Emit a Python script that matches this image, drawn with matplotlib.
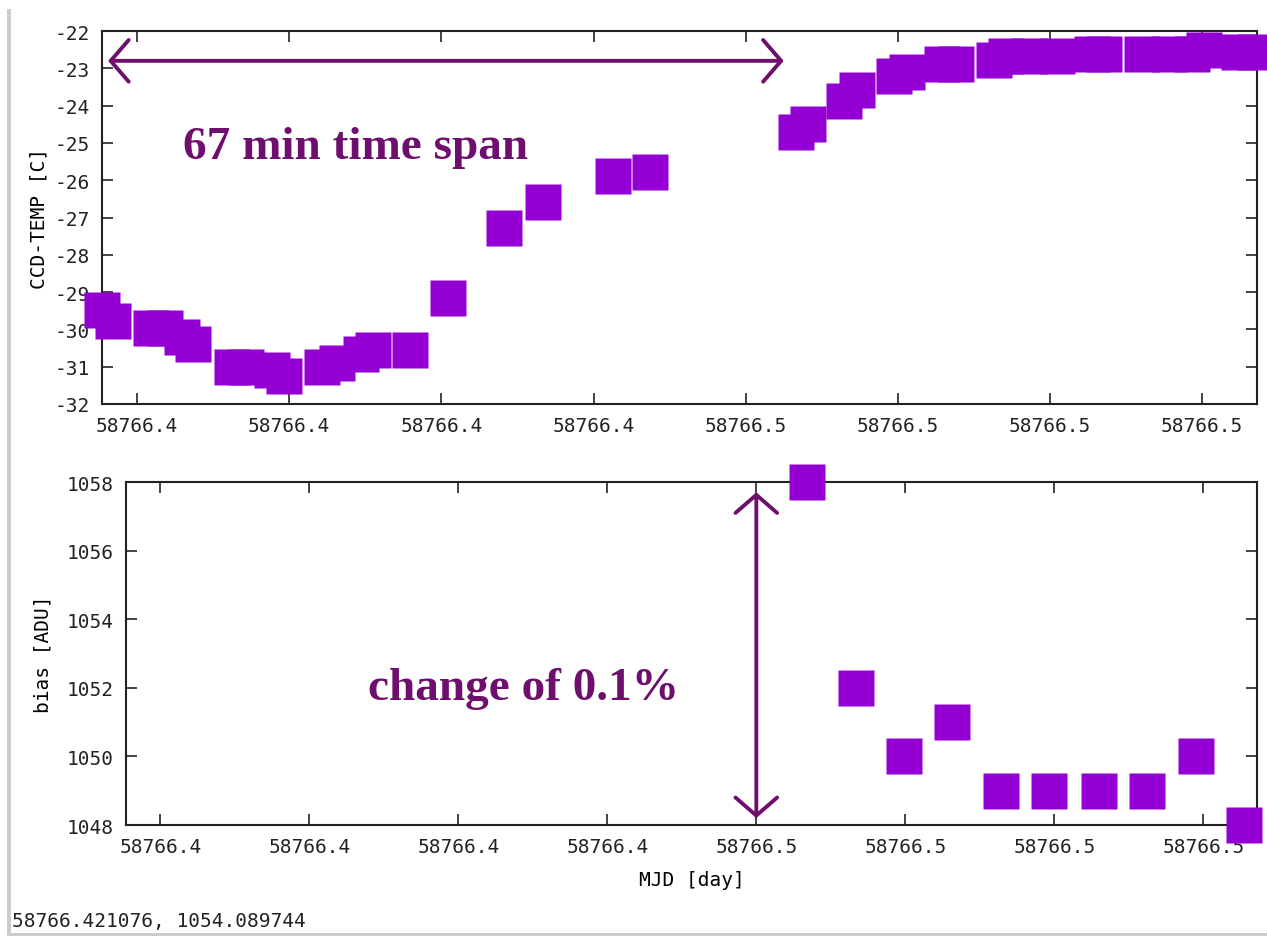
import matplotlib
matplotlib.use('Agg')
import matplotlib.pyplot as plt
from matplotlib.patches import Rectangle

# CCD temperature (top panel)
temp_mjd = [58766.41770, 58766.41843, 58766.42092, 58766.42184, 58766.42295,
            58766.42367, 58766.42623, 58766.42715, 58766.42885, 58766.42964,
            58766.43213, 58766.43311, 58766.43469, 58766.43548, 58766.43797,
            58766.44046, 58766.44413, 58766.44669, 58766.45128, 58766.45370,
            58766.46328, 58766.46407, 58766.46649, 58766.46734, 58766.46977,
            58766.47062, 58766.47292, 58766.47384, 58766.47633, 58766.47711,
            58766.47862, 58766.48046, 58766.48275, 58766.48354, 58766.48603,
            58766.48780, 58766.48931, 58766.49010, 58766.49239, 58766.49344]
ccd_temp = [-29.48, -29.77, -29.96, -29.96, -30.2, -30.4, -31.0, -31.0, -31.1, -31.25,
            -31.0, -30.9, -30.65, -30.55, -30.55, -29.15, -27.28, -26.58, -25.89, -25.78,
            -24.7, -24.5, -23.88, -23.58, -23.2, -23.1, -22.88, -22.88, -22.78, -22.67,
            -22.67, -22.67, -22.62, -22.62, -22.62, -22.62, -22.62, -22.5, -22.57, -22.55]

# bias level (bottom panel)
bias_mjd = [58766.46337, 58766.46667, 58766.46990, 58766.47313, 58766.47643,
            58766.47966, 58766.48302, 58766.48625, 58766.48948, 58766.49271]
bias = [1058, 1052, 1050, 1051, 1049, 1049, 1049, 1049, 1050, 1048]

xticks = [58766.42, 58766.43, 58766.44, 58766.45, 58766.46, 58766.47, 58766.48, 58766.49]
xtick_labels = ['58766.4'] * 4 + ['58766.5'] * 4
temp_ticks = list(range(-32, -21))
bias_ticks = list(range(1048, 1059, 2))
XMIN, XMAX = 58766.4177, 58766.4936

PT_COLOR = '#9400d3'
ANN_COLOR = '#6e0f6e'
MONO = 'DejaVu Sans Mono'

fig = plt.figure(figsize=(12.67, 9.37), dpi=100)
ax1 = fig.add_axes([102 / 1267, 1 - 405 / 937, 1155 / 1267, 373 / 937])
ax2 = fig.add_axes([126 / 1267, 1 - 826 / 937, 1131 / 1267, 343 / 937])


def style(ax, yticks):
    ax.set_xlim(XMIN, XMAX)
    ax.set_xticks(xticks)
    ax.set_xticklabels(xtick_labels, fontfamily=MONO, fontsize=14)
    ax.set_yticks(yticks)
    ax.set_yticklabels([str(v) for v in yticks], fontfamily=MONO, fontsize=14)
    ax.tick_params(direction='in', length=8, width=1.2, top=True, right=True,
                   pad=9, colors='#222222')
    for sp in ax.spines.values():
        sp.set_linewidth(1.5)
        sp.set_color('#222222')


ax1.plot(temp_mjd, ccd_temp, 's', ms=26, color=PT_COLOR, mec='none', clip_on=False, zorder=3)
ax1.set_ylim(-32, -22)
style(ax1, temp_ticks)
ax1.set_ylabel('CCD-TEMP [C]', fontfamily=MONO, fontsize=14, labelpad=4)

ax2.plot(bias_mjd, bias, 's', ms=26, color=PT_COLOR, mec='none', clip_on=False, zorder=3)
ax2.set_ylim(1048, 1058)
style(ax2, bias_ticks)
ax2.set_ylabel('bias [ADU]', fontfamily=MONO, fontsize=14, labelpad=10)
ax2.set_xlabel('MJD [day]', fontfamily=MONO, fontsize=14, labelpad=10)

# annotations
arrow = dict(arrowstyle='<->,head_length=1.3,head_width=1.5', color=ANN_COLOR,
             lw=2.8, mutation_scale=10, shrinkA=0, shrinkB=0)
ax1.annotate('', xy=(58766.4181, -22.8), xytext=(58766.4625, -22.8),
             arrowprops=arrow, annotation_clip=False)
ax1.text(0.070, 0.66, '67 min time span', transform=ax1.transAxes,
         fontfamily='Liberation Serif', fontweight='bold', fontsize=34,
         color=ANN_COLOR, ha='left', va='baseline')

ax2.annotate('', xy=(58766.46, 1048.2), xytext=(58766.46, 1057.7),
             arrowprops=arrow, annotation_clip=False)
ax2.text(0.214, 0.367, 'change of 0.1%', transform=ax2.transAxes,
         fontfamily='Liberation Serif', fontweight='bold', fontsize=34,
         color=ANN_COLOR, ha='left', va='baseline')

# window frame bits and mouse position readout
fig.add_artist(Rectangle((7 / 1267, 2 / 937), 4 / 1267, 925 / 937,
                         transform=fig.transFigure, color='#cccccc', lw=0))
fig.add_artist(Rectangle((7 / 1267, 0), 1260 / 1267, 3 / 937,
                         transform=fig.transFigure, color='#cccccc', lw=0))
fig.text(12 / 1267, 1 - 922 / 937, '58766.421076, 1054.089744',
         fontfamily=MONO, fontsize=14, va='center', ha='left', color='#222222')

fig.savefig('out.png', dpi=100)
